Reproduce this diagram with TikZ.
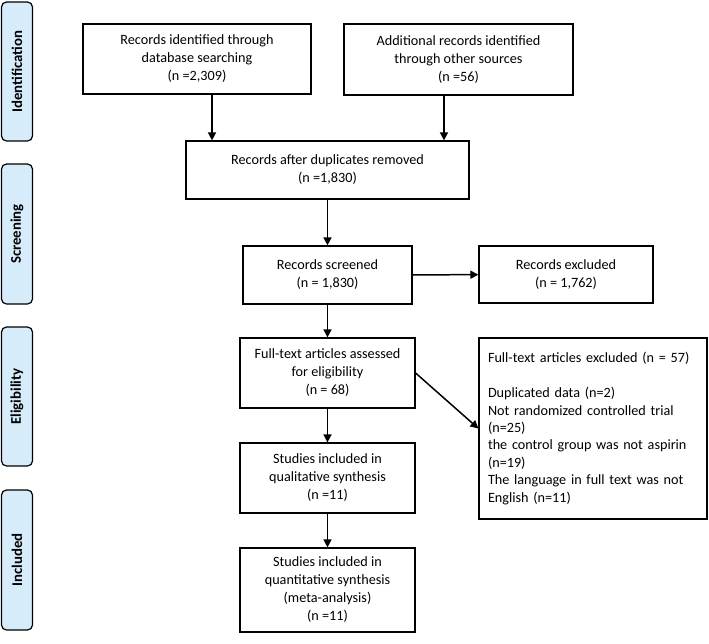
\documentclass[tikz,border=0pt]{standalone}
\usepackage{fontspec}
\setmainfont{Carlito}
\usetikzlibrary{arrows.meta}
\definecolor{sideblue}{RGB}{214,236,251}
\tikzset{
  box/.style={draw, line width=1.2pt, align=center, inner sep=2pt,
    font=\fontsize{14.2}{18}\selectfont},
  side/.style={draw, line width=1.2pt, rounded corners=5pt, fill=sideblue,
    minimum width=31pt},
  sidetext/.style={rotate=90, font=\bfseries\fontsize{14.8}{16}\selectfont},
  arr/.style={-{Triangle[length=8pt,width=8pt]}, line width=1.5pt}
}
\begin{document}
\begin{tikzpicture}[x=1pt,y=-1pt]
\useasboundingbox (0,0) rectangle (709,643);
% side labels
\node[side, minimum height=139pt] (sid) at (17,71.5) {};
\node[sidetext] (sidt) at (sid.center) {Identification};
\node[side, minimum height=140pt] (sscr) at (17,234) {};
\node[sidetext] (sscrt) at (sscr.center) {Screening};
\node[side, minimum height=139pt] (selg) at (17,396.5) {};
\node[sidetext] (selgt) at (selg.center) {Eligibility};
\node[side, minimum height=140pt] (sinc) at (17,560) {};
\node[sidetext] (sinct) at (sinc.center) {Included};
% boxes
\node[box, minimum width=228pt, minimum height=70pt] (db) at (197,59)
  {Records identified through\\database searching\\(n =2,309)};
\node[box, minimum width=229pt, minimum height=71pt] (oth) at (458.5,59.5)
  {Additional records identified\\through other sources\\(n =56)};
\node[box, minimum width=283pt, minimum height=58pt] (dup) at (327.5,170)
  {Records after duplicates removed\\(n =1,830)};
\node[box, minimum width=169pt, minimum height=58pt] (scr) at (327.5,275)
  {Records screened\\(n = 1,830)};
\node[box, minimum width=174pt, minimum height=57pt] (exc) at (566,274.5)
  {Records excluded\\(n = 1,762)};
\node[box, minimum width=175pt, minimum height=70pt] (ft) at (327.5,373)
  {Full-text articles assessed\\for eligibility\\(n = 68)};
\node[box, minimum width=228pt, minimum height=181pt, align=left, text width=210pt,
  font=\fontsize{14.2}{17.4}\selectfont] (ftx) at (593,428.5)
  {Full-text articles excluded (n = 57)\\[17.4pt]Duplicated data (n=2)\\Not randomized controlled trial\\(n=25)\\the control group was not aspirin\\(n=19)\\The language in full text was not\\English (n=11)};
\node[box, minimum width=175pt, minimum height=70pt] (qual) at (327.5,478)
  {Studies included in\\qualitative synthesis\\(n =11)};
\node[box, minimum width=175pt, minimum height=84pt] (quan) at (327.5,590)
  {Studies included in\\quantitative synthesis\\(meta-analysis)\\(n =11)};
% connectors
\coordinate (a1) at (212,0);
\coordinate (a2) at (444,0);
\draw[arr] (db.south -| a1) -- (dup.north -| a1);
\draw[arr] (oth.south -| a2) -- (dup.north -| a2);
\draw[arr] (dup) -- (scr);
\draw[arr] (scr) -- (exc);
\draw[arr] (scr) -- (ft);
\draw[arr] (ft.east) -- (ftx.west);
\draw[arr] (ft) -- (qual);
\draw[arr] (qual) -- (quan);
\end{tikzpicture}
\end{document}
